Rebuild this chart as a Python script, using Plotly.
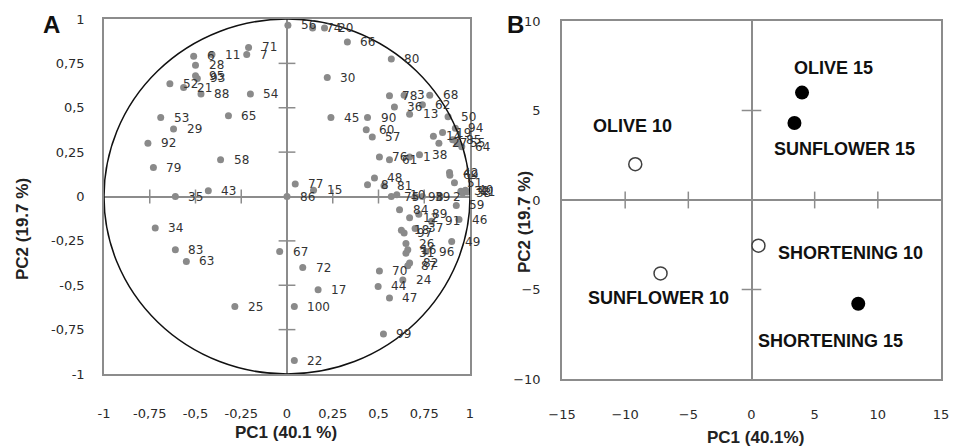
import plotly.graph_objects as go

# ---------------- Panel A: loadings ----------------
labels_A = ["56","74","20","66","6","11","71","7","28","95","93","52","21","88","54",
            "53","65","29","92","79","58","43","35","34","83","63","25","67","86","77",
            "15","72","17","100","22","30","45","90","60","57","80","78","3","36","13",
            "68","62","76","61","1","38","50","94","14","19","27","85","55","64","42",
            "69","48","8","81","75","10","98","39","2","51","32","33","40","41","59",
            "84","12","89","91","46","37","18","97","26","16","31","96","49","82","87",
            "70","24","44","47","99"]
pc1_A = [0.005,0.14,0.205,0.33,-0.51,-0.41,-0.21,-0.22,-0.50,-0.50,-0.49,-0.64,-0.565,-0.47,-0.20,
         -0.69,-0.32,-0.62,-0.76,-0.73,-0.363,-0.43,-0.61,-0.72,-0.61,-0.55,-0.285,-0.04,0.0,0.045,
         0.145,0.086,0.17,0.04,0.04,0.22,0.24,0.44,0.433,0.466,0.57,0.56,0.64,0.587,0.67,
         0.78,0.74,0.505,0.56,0.67,0.724,0.88,0.92,0.80,0.85,0.83,0.905,0.93,0.955,0.888,
         0.89,0.478,0.44,0.53,0.57,0.60,0.70,0.74,0.835,0.915,0.95,0.96,0.975,0.985,0.925,
         0.615,0.67,0.72,0.79,0.94,0.70,0.625,0.64,0.65,0.66,0.65,0.76,0.90,0.67,0.66,
         0.505,0.633,0.498,0.56,0.527]
pc2_A = [0.965,0.95,0.95,0.87,0.79,0.80,0.84,0.80,0.74,0.68,0.665,0.635,0.614,0.577,0.577,
         0.445,0.455,0.38,0.30,0.163,0.207,0.032,0.0,-0.178,-0.30,-0.366,-0.62,-0.31,0.0,0.07,
         0.035,-0.40,-0.526,-0.62,-0.924,0.67,0.445,0.445,0.376,0.335,0.774,0.567,0.57,0.504,0.464,
         0.57,0.517,0.223,0.207,0.223,0.235,0.45,0.385,0.34,0.36,0.30,0.32,0.30,0.28,0.135,
         0.12,0.104,0.066,0.06,0.0,0.01,0.0,0.0,0.0,0.077,0.03,0.02,0.035,0.025,-0.05,
         -0.075,-0.12,-0.10,-0.14,-0.13,-0.18,-0.19,-0.205,-0.265,-0.30,-0.32,-0.31,-0.254,-0.375,-0.39,
         -0.42,-0.47,-0.507,-0.572,-0.774]
ticks_A = [-1, -0.75, -0.5, -0.25, 0, 0.25, 0.5, 0.75, 1]
ticktext_A = ["-1", "-0,75", "-0,5", "-0,25", "0", "0,25", "0,5", "0,75", "1"]

# ---------------- Panel B: scores ----------------
samples_10 = ["OLIVE 10", "SUNFLOWER 10", "SHORTENING 10"]
pc1_10 = [-9.2, -7.2, 0.55]
pc2_10 = [2.0, -4.1, -2.55]
samples_15 = ["OLIVE 15", "SUNFLOWER 15", "SHORTENING 15"]
pc1_15 = [4.0, 3.4, 8.45]
pc2_15 = [6.0, 4.3, -5.8]
ticks_Bx = [-15, -10, -5, 0, 5, 10, 15]
ticks_By = [-10, -5, 0, 5, 10]

# label pixel offsets (style)
off_10 = [(-3, 38), (-2, -25), (92, -7)]
off_15 = [(31, 25), (50, -26), (-28, -37)]

W, H = 958, 448
GREY = "#8a8a8a"
AXGREY = "#8c8c8c"
TXT = "#2a2a2a"
TICKFONT = dict(family="DejaVu Sans", size=13, color=TXT)

fig = go.Figure()

# Panel A points
fig.add_trace(go.Scatter(x=pc1_A, y=pc2_A, mode="markers", xaxis="x", yaxis="y",
                         marker=dict(color=GREY, size=7), hoverinfo="skip",
                         cliponaxis=False, showlegend=False))
# tick marks on the zero lines (panel A)
inner_A = [t for t in ticks_A if t not in (-1, 0, 1)]
fig.add_trace(go.Scatter(x=inner_A, y=[0]*len(inner_A), mode="markers", xaxis="x", yaxis="y",
                         marker=dict(symbol="line-ns", size=10, line=dict(color=AXGREY, width=1.5)),
                         hoverinfo="skip", showlegend=False))
fig.add_trace(go.Scatter(x=[0]*len(inner_A), y=inner_A, mode="markers", xaxis="x", yaxis="y",
                         marker=dict(symbol="line-ew", size=12, line=dict(color=AXGREY, width=1.5)),
                         hoverinfo="skip", showlegend=False))

# Panel B tick marks on zero lines
inner_Bx = [t for t in ticks_Bx if t not in (-15, 0, 15)]
inner_By = [t for t in ticks_By if t not in (-10, 0, 10)]
fig.add_trace(go.Scatter(x=inner_Bx, y=[0]*len(inner_Bx), mode="markers", xaxis="x2", yaxis="y2",
                         marker=dict(symbol="line-ns", size=12, line=dict(color=AXGREY, width=1.5)),
                         hoverinfo="skip", showlegend=False))
fig.add_trace(go.Scatter(x=[0]*len(inner_By), y=inner_By, mode="markers", xaxis="x2", yaxis="y2",
                         marker=dict(symbol="line-ew", size=14, line=dict(color=AXGREY, width=1.5)),
                         hoverinfo="skip", showlegend=False))
# Panel B points
fig.add_trace(go.Scatter(x=pc1_10, y=pc2_10, mode="markers", xaxis="x2", yaxis="y2",
                         marker=dict(color="white", size=13, line=dict(color="#404040", width=1.5)),
                         hoverinfo="skip", showlegend=False))
fig.add_trace(go.Scatter(x=pc1_15, y=pc2_15, mode="markers", xaxis="x2", yaxis="y2",
                         marker=dict(color="black", size=14, line=dict(color="black", width=0)),
                         hoverinfo="skip", showlegend=False))

annotations = []
for lab, x, y in zip(labels_A, pc1_A, pc2_A):
    annotations.append(dict(x=x, y=y, xref="x", yref="y", text=lab, showarrow=False,
                            xanchor="left", yanchor="middle", xshift=11,
                            font=dict(family="DejaVu Sans", size=12, color="#333333")))
for names, xs, ys, offs in ((samples_10, pc1_10, pc2_10, off_10), (samples_15, pc1_15, pc2_15, off_15)):
    for n, x, y, (dx, dy) in zip(names, xs, ys, offs):
        annotations.append(dict(x=x, y=y, xref="x2", yref="y2", text="<b>%s</b>" % n, showarrow=False,
                                xanchor="center", yanchor="middle", xshift=dx, yshift=dy,
                                font=dict(family="Liberation Sans", size=18, color="#111")))

def pp(px, py):
    return px / W, 1 - py / H

TITLEFONT = dict(family="Liberation Sans", size=17, color="#222")
for txt, (px, py), ang in (("<b>PC1 (40.1 %)</b>", (286, 432), 0),
                           ("<b>PC2 (19.7 %)</b>", (22, 229), -90),
                           ("<b>PC1 (40.1%)</b>", (755, 437), 0),
                           ("<b>PC2 (19.7 %)</b>", (524, 222), -90)):
    x, y = pp(px, py)
    annotations.append(dict(x=x, y=y, xref="paper", yref="paper", text=txt, showarrow=False,
                            xanchor="center", yanchor="middle", textangle=ang, font=TITLEFONT))
for txt, (px, py) in (("<b>A</b>", (51, 24)), ("<b>B</b>", (515, 24))):
    x, y = pp(px, py)
    annotations.append(dict(x=x, y=y, xref="paper", yref="paper", text=txt, showarrow=False,
                            xanchor="center", yanchor="middle",
                            font=dict(family="Liberation Sans", size=24, color="#111")))

axis_common = dict(showline=True, mirror=True, linecolor=AXGREY, linewidth=1.5,
                   showgrid=False, zeroline=True, zerolinecolor=AXGREY, zerolinewidth=1.5,
                   ticks="outside", tickcolor="rgba(0,0,0,0)", tickfont=TICKFONT, automargin=False)

fig.update_layout(
    width=W, height=H, margin=dict(l=0, r=0, t=0, b=0),
    paper_bgcolor="white", plot_bgcolor="white", showlegend=False,
    xaxis=dict(domain=[104 / W, 470 / W], range=[-1, 1], tickvals=ticks_A, ticktext=ticktext_A,
               ticklen=27, anchor="y", **axis_common),
    yaxis=dict(domain=[1 - 374 / H, 1 - 19 / H], range=[-1, 1], tickvals=ticks_A, ticktext=ticktext_A,
               ticklen=15, anchor="x", **axis_common),
    xaxis2=dict(domain=[562 / W, 941 / W], range=[-15, 15], tickvals=ticks_Bx,
                ticklen=23, anchor="y2", **axis_common),
    yaxis2=dict(domain=[1 - 379 / H, 1 - 21 / H], range=[-10, 10], tickvals=ticks_By,
                ticklen=17, anchor="x2", **axis_common),
    shapes=[dict(type="circle", xref="x", yref="y", x0=-1, y0=-1, x1=1, y1=1,
                 line=dict(color="#111", width=1.5), layer="above")],
    annotations=annotations,
)

fig.write_html("out.html")
